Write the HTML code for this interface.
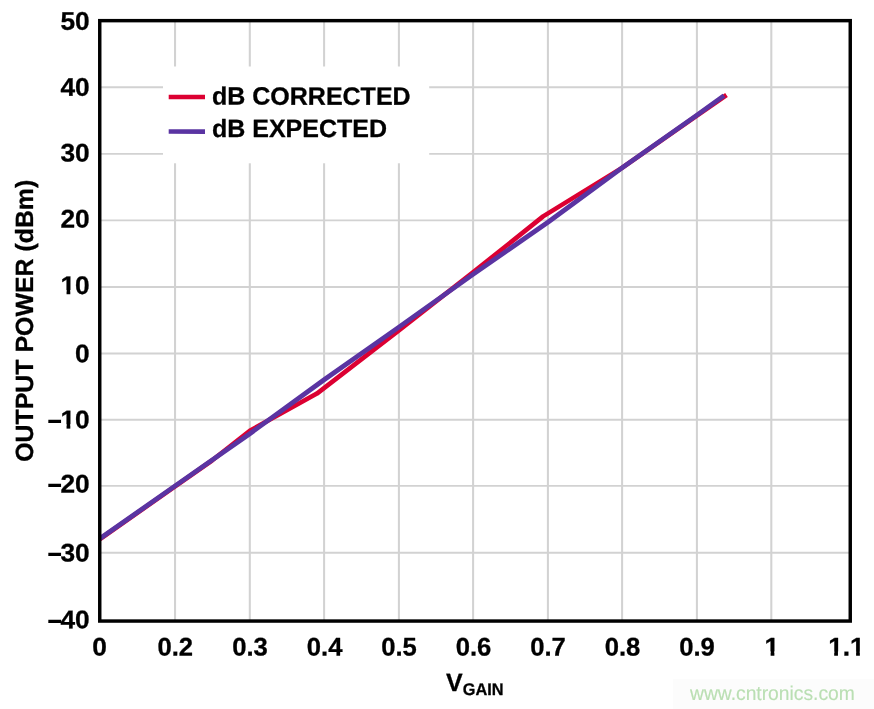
<!DOCTYPE html>
<html>
<head>
<meta charset="utf-8">
<title>Output Power vs VGAIN</title>
<style>
html,body{margin:0;padding:0;background:#fff;}
body{width:874px;height:709px;overflow:hidden;font-family:"Liberation Sans",sans-serif;}
svg{display:block;will-change:transform;}
text{font-family:"Liberation Sans",sans-serif;font-weight:bold;fill:#000;stroke:#000;stroke-width:0.3px;stroke-linejoin:round;text-rendering:geometricPrecision;}
</style>
</head>
<body>
<svg width="874" height="709" viewBox="0 0 874 709">
<rect x="0" y="0" width="874" height="709" fill="#ffffff"/>
<!-- grid -->
<g fill="none" stroke="#d2d2d2">
<path stroke-width="2.05" d="M175.05 20.7V621M249.8 20.7V621M324.1 20.7V621M398.9 20.7V621M473.1 20.7V621M547.9 20.7V621M622.1 20.7V621M696.9 20.7V621M771.3 20.7V621"/>
<path stroke-width="1.85" d="M99.8 87.2H850.2M99.8 153.8H850.2M99.8 220.4H850.2M99.8 287H850.2M99.8 353.5H850.2M99.8 419.7H850.2M99.8 485.8H850.2M99.8 552.7H850.2"/>
</g>
<!-- legend box -->
<rect x="163" y="66.5" width="266.2" height="96.8" fill="#ffffff"/>
<!-- data lines -->
<polyline points="100,539 175.1,486.4 212,460.5 249.8,430.7 316.9,393.6 398.9,330.4 473,272.4 543.1,216.4 622,167.9 696.9,115.7 726.5,95" fill="none" stroke="#dc0032" stroke-width="4.6" stroke-linejoin="round"/>
<polyline points="100,538.5 175.1,485.9 249.8,433.7 324.1,379.8 398.9,327.1 473,274.4 547.9,222.2 622,167.9 696.9,115.1 724,95.65" fill="none" stroke="#5a34a2" stroke-width="4.8" stroke-linejoin="round"/>
<!-- frame -->
<rect x="99.75" y="20.65" width="750.5" height="600.4" fill="none" stroke="#000" stroke-width="3.45"/>
<!-- legend -->
<line x1="168.7" y1="96.9" x2="205" y2="96.9" stroke="#dc0032" stroke-width="4.5"/>
<line x1="168.7" y1="131.5" x2="205" y2="131.55" stroke="#5a34a2" stroke-width="4.7"/>
<text transform="translate(212,104.6) rotate(0.03)" font-size="25">dB CORRECTED</text>
<text transform="translate(212,136.9) rotate(0.03)" font-size="25">dB EXPECTED</text>
<!-- y labels -->
<g font-size="25.5" text-anchor="end" style="stroke-width:0.1px">
<text transform="translate(89.7,29.8) rotate(0.03) scale(1.03,1)">50</text>
<text transform="translate(89.7,95.8) rotate(0.03) scale(1.03,1)">40</text>
<text transform="translate(89.7,161.55) rotate(0.03) scale(1.03,1)">30</text>
<text transform="translate(89.7,227.5) rotate(0.03) scale(1.03,1)">20</text>
<text transform="translate(89.7,294.1) rotate(0.03) scale(1.03,1)">10</text>
<text transform="translate(89.7,362.2) rotate(0.03) scale(1.03,1)">0</text>
<text transform="translate(47.52,430.22) rotate(0.03) scale(0.8,1)" font-size="32.3" text-anchor="start" style="stroke:none">–</text>
<text transform="translate(89.7,428.2) rotate(0.03) scale(1.03,1)">10</text>
<text transform="translate(47.52,494.47) rotate(0.03) scale(0.8,1)" font-size="32.3" text-anchor="start" style="stroke:none">–</text>
<text transform="translate(89.7,492.6) rotate(0.03) scale(1.03,1)">20</text>
<text transform="translate(47.52,563.22) rotate(0.03) scale(0.8,1)" font-size="32.3" text-anchor="start" style="stroke:none">–</text>
<text transform="translate(89.7,561.4) rotate(0.03) scale(1.03,1)">30</text>
<text transform="translate(47.52,630.07) rotate(0.03) scale(0.8,1)" font-size="32.3" text-anchor="start" style="stroke:none">–</text>
<text transform="translate(89.7,628.3) rotate(0.03) scale(1.03,1)">40</text>
</g>
<!-- x labels -->
<g font-size="25.5" text-anchor="middle" style="stroke-width:0.1px">
<text transform="translate(99.6,655.4) rotate(0.03) scale(1.03,1)">0</text>
<text transform="translate(175.3,655.4) rotate(0.03) scale(1.005,1)">0.2</text>
<text transform="translate(250.0,655.4) rotate(0.03) scale(1.005,1)">0.3</text>
<text transform="translate(324.6,655.4) rotate(0.03) scale(1.005,1)">0.4</text>
<text transform="translate(399.0,655.4) rotate(0.03) scale(1.005,1)">0.5</text>
<text transform="translate(473.5,655.4) rotate(0.03) scale(1.005,1)">0.6</text>
<text transform="translate(548.0,655.4) rotate(0.03) scale(1.005,1)">0.7</text>
<text transform="translate(622.5,655.4) rotate(0.03) scale(1.005,1)">0.8</text>
<text transform="translate(697.0,655.4) rotate(0.03) scale(1.005,1)">0.9</text>
<text transform="translate(771.8,655.4) rotate(0.03) scale(1.03,1)">1</text>
<text transform="translate(846.4,655.4) rotate(0.03) scale(1.03,1)">1.1</text>
</g>
<!-- trim foot serifs of the digit 1 to match the sans "1" of the source -->
<g fill="#ffffff">
<rect x="60.5" y="290.1" width="6.05" height="5.2"/><rect x="70.3" y="290.1" width="5.2" height="5.2"/>
<rect x="60.5" y="424.2" width="6.05" height="5.2"/><rect x="70.3" y="424.2" width="5.2" height="5.2"/>
<rect x="764.5" y="651.4" width="6.12" height="5.2"/><rect x="774.38" y="651.4" width="5.6" height="5.2"/>
<rect x="828" y="651.4" width="6.2" height="5.2"/><rect x="837.95" y="651.4" width="5.05" height="5.2"/>
<rect x="850" y="651.4" width="6.1" height="5.2"/><rect x="859.85" y="651.4" width="5.9" height="5.2"/>
</g>
<!-- axis titles -->
<text transform="translate(32.9,461.8) rotate(-90)" font-size="24.9">OUTPUT POWER (dBm)</text>
<text transform="translate(446,691) rotate(0.03)" font-size="25">V</text>
<text transform="translate(462.7,695.1) rotate(0.03) scale(0.965,1)" font-size="16.9">GAIN</text>
<!-- watermark -->
<rect x="673" y="679" width="201" height="30" fill="#fcfcfc"/>
<text transform="translate(690,699.9) rotate(0.03) scale(0.963,1)" font-size="20" style="font-weight:normal;fill:#badfb3;stroke:#badfb3;stroke-width:0.15px">www.cntronics.com</text>
</svg>
</body>
</html>
